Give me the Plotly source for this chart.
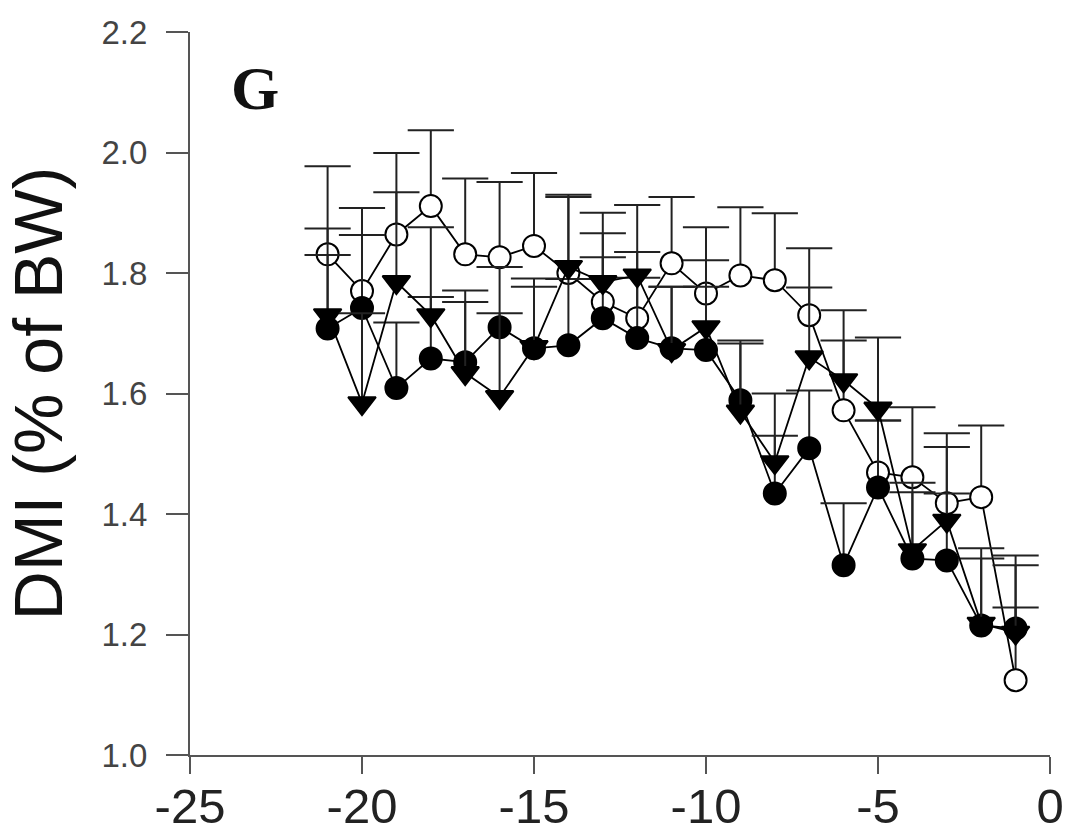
import plotly.graph_objects as go

days = [-21, -20, -19, -18, -17, -16, -15, -14, -13, -12, -11, -10, -9, -8, -7, -6, -5, -4, -3, -2, -1]

open_circle = [1.831, 1.770, 1.864, 1.911, 1.831, 1.826, 1.845, 1.800, 1.752, 1.725, 1.816,
               1.766, 1.796, 1.788, 1.730, 1.572, 1.469, 1.461, 1.418, 1.428, 1.124]
open_circle_err = [0.146, 0.138, 0.135, 0.126, 0.126, 0.125, 0.121, 0.126, 0.114, 0.110, 0.110,
                   0.110, 0.113, 0.111, 0.111, 0.116, 0.086, 0.116, 0.116, 0.119, 0.121]

filled_circle = [1.708, 1.742, 1.609, 1.658, 1.652, 1.710, 1.675, 1.680, 1.725, 1.692, 1.675,
                 1.672, 1.589, 1.434, 1.509, 1.315, 1.444, 1.326, 1.323, 1.215, 1.210]
filled_circle_err = [0.122, 0.121, 0.109, 0.102, 0.119, 0.100, 0.102, 0.110, 0.101, 0.100, 0.102,
                     0.105, 0.099, 0.096, 0.096, 0.103, 0.111, 0.110, 0.111, 0.111, 0.105]

triangle = [1.730, 1.584, 1.785, 1.730, 1.634, 1.594, 1.677, 1.810, 1.785, 1.796, 1.672,
            1.710, 1.570, 1.486, 1.660, 1.622, 1.575, 1.340, 1.389, 1.218, 1.203]
triangle_err = [0.144, 0.149, 0.149, 0.146, 0.118, 0.139, 0.114, 0.120, 0.115, 0.117, 0.105,
                0.111, 0.113, 0.114, 0.116, 0.116, 0.118, 0.112, 0.122, 0.125, 0.128]

x_tickvals = [-25, -20, -15, -10, -5, 0]
x_ticktext = ["-25", "-20", "-15", "-10", "-5", "0"]
y_tickvals = [1.0, 1.2, 1.4, 1.6, 1.8, 2.0, 2.2]
y_ticktext = ["1.0", "1.2", "1.4", "1.6", "1.8", "2.0", "2.2"]

panel_label = "G"
y_title = "DMI (% of BW)"

fig = go.Figure()


def add_series(name, y, err, symbol, fill):
    # main line + markers, with upper error stems (no built-in caps)
    fig.add_trace(go.Scatter(
        x=days, y=y, name=name, mode="lines+markers",
        line=dict(color="black", width=1.8),
        marker=dict(symbol=symbol, size=22 if "circle" in symbol else 24,
                    color=fill, line=dict(color="black", width=2)),
        error_y=dict(type="data", symmetric=False, array=err,
                     arrayminus=[0] * len(err), color="#222", thickness=2, width=0),
        showlegend=False,
    ))
    # caps at the top of each error bar
    fig.add_trace(go.Scatter(
        x=days, y=[v + e for v, e in zip(y, err)], mode="markers",
        marker=dict(symbol="line-ew", size=33, line=dict(color="#222", width=2)),
        showlegend=False, hoverinfo="skip",
    ))


add_series("open", open_circle, open_circle_err, "circle", "white")
add_series("filled", filled_circle, filled_circle_err, "circle", "black")
add_series("triangle", triangle, triangle_err, "triangle-down", "black")

fig.add_annotation(x=-23.1, y=2.107, xref="x", yref="y", text="<b>" + panel_label + "</b>",
                   showarrow=False, font=dict(family="Liberation Serif", size=62, color="#111"))

fig.update_layout(
    width=1069, height=838,
    margin=dict(l=190, r=19, t=32, b=83),
    paper_bgcolor="white", plot_bgcolor="white",
    xaxis=dict(range=[-25, 0], tickvals=x_tickvals, ticktext=x_ticktext, automargin=False,
               showgrid=False, zeroline=False, showline=True, linecolor="#555", linewidth=2,
               ticks="outside", ticklen=17, tickwidth=2, tickcolor="#555",
               tickfont=dict(family="Liberation Sans, Arial", size=49, color="#222"),
               ticklabelstandoff=-10),
    yaxis=dict(range=[1.0, 2.2], tickvals=y_tickvals, ticktext=y_ticktext, automargin=False,
               showgrid=False, zeroline=False, showline=True, linecolor="#555", linewidth=2,
               ticks="outside", ticklen=22, tickwidth=2, tickcolor="#555",
               tickfont=dict(family="Liberation Sans, Arial", size=33, color="#444"),
               ticklabelstandoff=12,
               title=dict(text=y_title, font=dict(family="Liberation Sans, Arial", size=68, color="#111"),
                          standoff=20)),
)

fig.write_html("out.html")
